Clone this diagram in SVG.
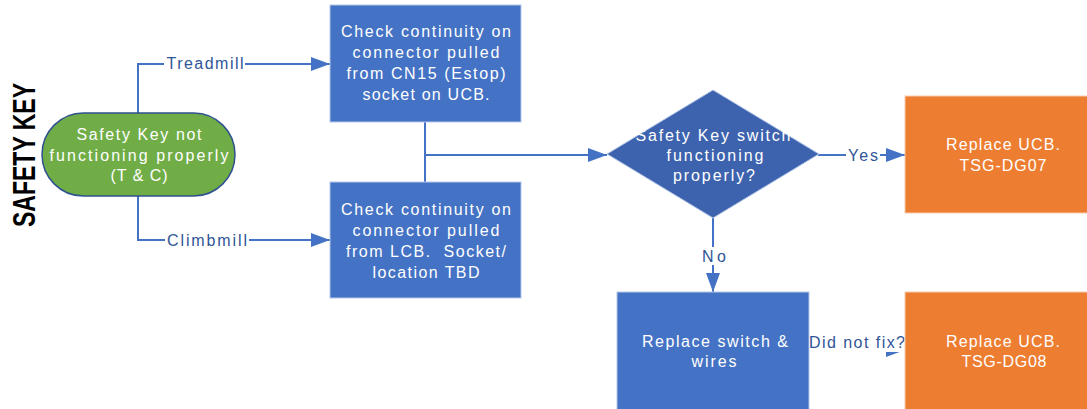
<svg xmlns="http://www.w3.org/2000/svg" width="1087" height="409" viewBox="0 0 1087 409">
<style>
.bg{fill:#ffffff}
.box{fill:#4472C4;stroke:#B4C7E7;stroke-width:1}
.dia{fill:#3D63AE;stroke:#B4C7E7;stroke-width:1}
.org{fill:#ED7D31;stroke:#F8CBAD;stroke-width:1}
.grn{fill:#70AD47;stroke:#2F528F;stroke-width:1.5}
.t{font-family:"Liberation Sans",Arial,sans-serif;font-size:16px;fill:#ffffff;text-anchor:middle}
.lbl{font-family:"Liberation Sans",Arial,sans-serif;font-size:16px;fill:#2F5597;text-anchor:middle}
.lb{fill:#ffffff}
.c{fill:none;stroke:#4472C4;stroke-width:2}
.title{font-family:"Liberation Sans",Arial,sans-serif;font-weight:bold;font-size:31px;fill:#000000;text-anchor:middle}
</style>
<defs>
<marker id="arr" markerUnits="userSpaceOnUse" viewBox="0 0 19 14" markerWidth="19" markerHeight="14" refX="19" refY="7" orient="auto">
<path d="M0,0 L19,7 L0,14 z" fill="#4472C4"/>
</marker>
</defs>
<rect class="bg" x="0" y="0" width="1087" height="409"/>
<text class="title" transform="translate(35,155) rotate(-90)" textLength="144" lengthAdjust="spacingAndGlyphs">SAFETY KEY</text>
<g id="connectors">
<path class="c" d="M138,113 V64 H330" marker-end="url(#arr)"/>
<path class="c" d="M138,196 V240 H330" marker-end="url(#arr)"/>
<path class="c" d="M425,122 V182"/>
<path class="c" d="M425,155 H607" marker-end="url(#arr)"/>
<path class="c" d="M818,155 H905" marker-end="url(#arr)"/>
<path class="c" d="M713,218 V292" marker-end="url(#arr)"/>
<path class="c" d="M809,350 H905" marker-end="url(#arr)"/>
<rect class="lb" x="164" y="55" width="81" height="18"/>
<text class="lbl" x="205" y="69" textLength="77">Treadmill</text>
<rect class="lb" x="165" y="231" width="84" height="18"/>
<text class="lbl" x="207" y="246" textLength="80">Climbmill</text>
<rect class="lb" x="846" y="146" width="34" height="18"/>
<text class="lbl" x="863" y="161" textLength="30">Yes</text>
<rect class="lb" x="700" y="247" width="26" height="18"/>
<text class="lbl" x="714" y="262" textLength="24">No</text>
<rect class="lb" x="808" y="331" width="98" height="21"/>
<text class="lbl" x="857" y="348" textLength="96">Did not fix?</text>
</g>
<g id="start">
<rect class="grn" x="42" y="113" width="193" height="83" rx="41.5" ry="41.5"/>
<text class="t" x="139" y="140" textLength="125">Safety Key not</text>
<text class="t" x="139" y="161" textLength="179">functioning properly</text>
<text class="t" x="139" y="181" textLength="57">(T &amp; C)</text>
</g>
<g id="check-ucb">
<rect class="box" x="330" y="5" width="191" height="117"/>
<text class="t" x="426" y="37" textLength="170">Check continuity on</text>
<text class="t" x="426" y="58" textLength="147">connector pulled</text>
<text class="t" x="426" y="79" textLength="159">from CN15 (Estop)</text>
<text class="t" x="426" y="100" textLength="127">socket on UCB.</text>
</g>
<g id="check-lcb">
<rect class="box" x="330" y="182" width="191" height="116"/>
<text class="t" x="426" y="215" textLength="170">Check continuity on</text>
<text class="t" x="426" y="236" textLength="147">connector pulled</text>
<text class="t" x="426" y="257" textLength="160" xml:space="preserve">from LCB.  Socket/</text>
<text class="t" x="426" y="278" textLength="107">location TBD</text>
</g>
<g id="decision">
<path class="dia" d="M607,154 L713,90 L819,154 L713,218 Z"/>
<text class="t" x="713" y="141" textLength="155">Safety Key switch</text>
<text class="t" x="715" y="161" textLength="97">functioning</text>
<text class="t" x="714" y="181" textLength="82">properly?</text>
</g>
<g id="replace-ucb-07">
<rect class="org" x="905" y="96" width="196" height="117"/>
<text class="t" x="1003" y="150" textLength="114">Replace UCB.</text>
<text class="t" x="1003" y="171" textLength="87">TSG-DG07</text>
</g>
<g id="replace-switch">
<rect class="box" x="617" y="292" width="192" height="120"/>
<text class="t" x="715" y="347" textLength="146">Replace switch &amp;</text>
<text class="t" x="714" y="367" textLength="45">wires</text>
</g>
<g id="replace-ucb-08">
<rect class="org" x="905" y="292" width="196" height="120"/>
<text class="t" x="1003" y="347" textLength="114">Replace UCB.</text>
<text class="t" x="1004" y="367" textLength="85">TSG-DG08</text>
</g>
</svg>
